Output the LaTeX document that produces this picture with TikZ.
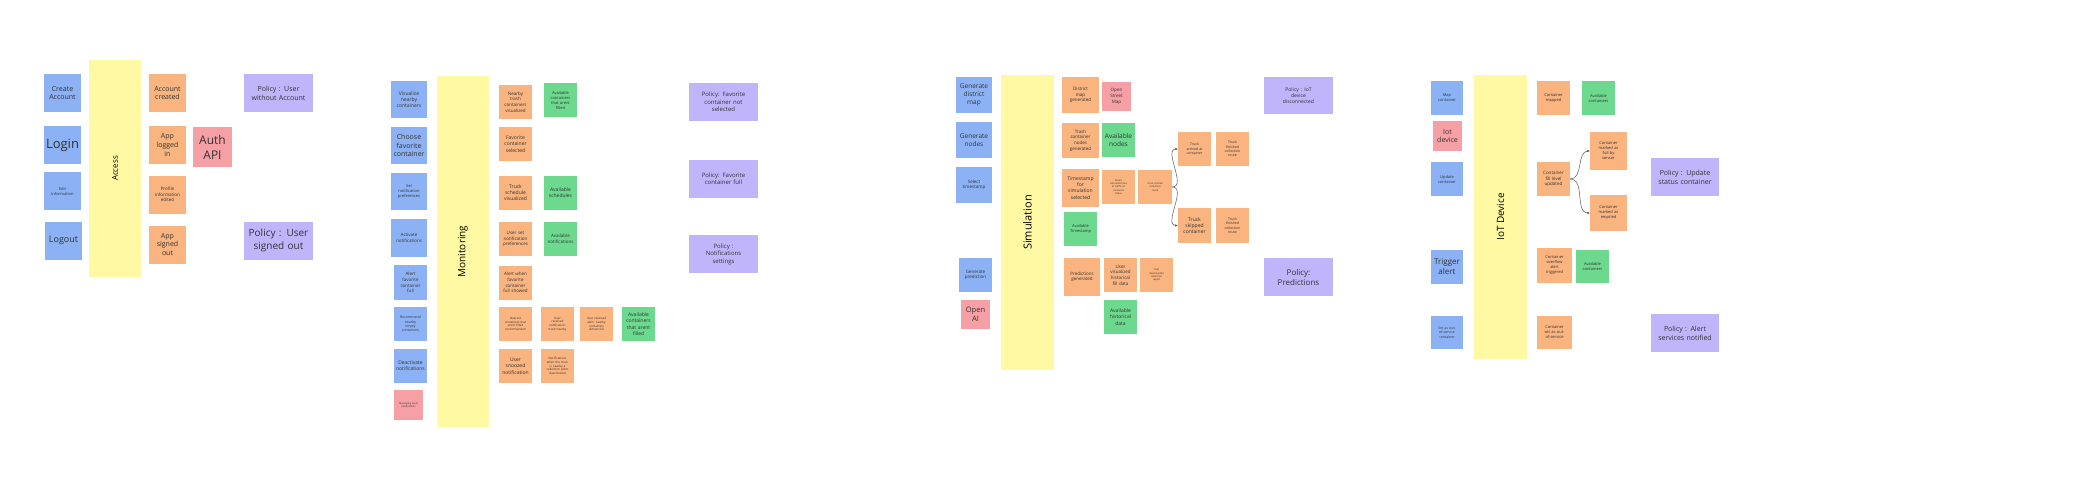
\documentclass[tikz,border=0pt]{standalone}
\usepackage{fontspec}
\setmainfont{Open Sans}
\usetikzlibrary{arrows.meta}

\definecolor{cmdblue}{HTML}{8CB2F5}
\definecolor{evorange}{HTML}{F9B47F}
\definecolor{aggyellow}{HTML}{FFF9A3}
\definecolor{rmgreen}{HTML}{6CD98F}
\definecolor{extred}{HTML}{F6A0A6}
\definecolor{polpurple}{HTML}{C0B5FB}

\begin{document}
\begin{tikzpicture}[x=1pt,y=-1pt,
  fs/.style={font=\fontsize{#1}{1.25\dimexpr#1pt\relax}\selectfont},
  sticky/.style={minimum width=33, minimum height=34, text width=31pt,
    align=center, inner sep=0pt, text=black!80},
  cmd/.style={sticky, fill=cmdblue},
  ev/.style={sticky, fill=evorange},
  rm/.style={sticky, fill=rmgreen},
  ext/.style={sticky, fill=extred, minimum width=29, minimum height=29, text width=27pt},
  pol/.style={sticky, fill=polpurple, minimum width=69, minimum height=38, text width=66pt},
  agg/.style={fill=aggyellow, minimum width=52, inner sep=0pt, text=black, rotate=90},
  big/.style={minimum width=37, minimum height=38, text width=35pt},
  flow/.style={-{Stealth[length=3pt,width=2.5pt]}, draw=black!65, line width=.5pt}]

\fill[white] (0,0) rectangle (2074,482);

% Access
\node[cmd,big,fs=7] (ca) at (62.5,93) {Create\\Account};
\node[cmd,big,fs=13] (login) at (62.5,145) {Login};
\node[cmd,big,fs=4] (edit) at (62.5,191) {Edit\\information};
\node[cmd,big,fs=9] (logout) at (63.5,240.5) {Logout};
\node[agg,minimum width=217,minimum height=52,fs=8] (access) at (115,168.5) {Access};
\node[ev,big,fs=7] (acreated) at (167.5,93) {Account\\created};
\node[ev,big,fs=7] (logged) at (167.5,145) {App\\logged\\in};
\node[ev,big,fs=4.5] (edited) at (167.5,194.5) {Profile\\information\\edited};
\node[ev,big,fs=7] (signed) at (167.5,244.5) {App\\signed\\out};
\node[ext,minimum width=39,minimum height=40,text width=37pt,fs=12] (auth) at (212.5,147) {Auth\\API};
\node[pol,fs=7] (pnoacc) at (278.5,93) {Policy : User\\without Account};
\node[pol,fs=10] (psigned) at (278.5,240.5) {Policy : User\\signed out};

% Monitoring
\node[cmd,minimum width=36,minimum height=37,fs=5] (visnear) at (409,99.5) {Visualize\\nearby\\containers};
\node[cmd,minimum width=36,minimum height=37,fs=7] (choose) at (409,145.5) {Choose\\favorite\\container};
\node[cmd,minimum width=36,minimum height=37,fs=4] (setpref) at (409,191.5) {Set\\notification\\preferences};
\node[cmd,minimum width=36,minimum height=38,fs=4.5] (activ) at (409,238) {Activate\\notifications};
\node[cmd,minimum height=35,fs=4.5] (alertfav) at (410.5,282.5) {Alert\\favorite\\container\\full};
\node[cmd,fs=3.5] (recomm) at (410.5,324) {Recommend\\nearby\\empty\\containers};
\node[cmd,fs=5] (deact) at (410.5,366) {Deactivate\\notifications};
\node[ext,minimum height=30,fs=2.5] (push) at (408.5,405) {Messaging push\\notifications};
\node[agg,minimum width=351,minimum height=52,fs=10] (monit) at (463,251.5) {Monitoring};
\node[ev,fs=4.5] (nearvis) at (515.5,102) {Nearby\\trash\\containers\\visualized};
\node[ev,fs=5] (favsel) at (515.5,144) {Favorite\\container\\selected};
\node[ev,fs=5] (schedvis) at (515.5,192.5) {Truck\\schedule\\visualized};
\node[ev,fs=4.5] (prefset) at (515.5,239) {User set\\notification\\preferences};
\node[ev,fs=4.5] (favshow) at (515.5,282.5) {Alert when\\favorite\\container\\full showed};
\node[ev,fs=3] (nearrec) at (515.5,324) {Nearest\\containers that\\arent filled\\recommended};
\node[ev,fs=3] (recvtruck) at (557.5,324) {User\\received\\notification:\\truck nearby};
\node[ev,fs=3] (recvalert) at (596.5,324) {User received\\alert: nearby\\containers\\almost full};
\node[ev,fs=5] (snoozed) at (515.5,366) {User\\snoozed\\notification};
\node[ev,fs=3] (notifoff) at (557.5,366) {Notifications\\when the truck\\is nearby a\\collection point\\deactivated};
\node[rm,fs=4] (availcont) at (560.5,100) {Available\\containers\\that arent\\filled};
\node[rm,fs=5] (availsched) at (560.5,192.5) {Available\\schedules};
\node[rm,fs=4.5] (availnotif) at (560.5,239) {Available\\notifications};
\node[rm,fs=5] (availcont2) at (638.5,324) {Available\\containers\\that arent\\filled};
\node[pol,fs=6] (pfavnot) at (723.5,102) {Policy: Favorite\\container not\\selected};
\node[pol,fs=6] (pfavfull) at (723.5,178.5) {Policy: Favorite\\container full};
\node[pol,fs=6] (pnotif) at (723.5,254) {Policy :\\Notifications\\settings};

% Simulation
\node[cmd,minimum width=36,minimum height=36,fs=6.5] (gendist) at (974,95) {Generate\\district\\map};
\node[cmd,minimum width=36,minimum height=36,fs=6.5] (gennodes) at (974,140) {Generate\\nodes};
\node[cmd,minimum width=36,minimum height=36,fs=4.5] (seltime) at (974,185) {Select\\timestamp};
\node[cmd,fs=4.5] (genpred) at (975.5,275) {Generate\\prediction};
\node[ext,fs=7.5] (openai) at (975.5,314.5) {Open\\AI};
\node[agg,minimum width=295,minimum height=53,fs=11] (simul) at (1027.5,222.5) {Simulation};
\node[ev,minimum width=37,minimum height=36,fs=4.5] (distgen) at (1080.5,95) {District\\map\\generated};
\node[ext,fs=4.5] (osm) at (1116.5,96.5) {Open\\Street\\Map};
\node[ev,minimum width=37,minimum height=35,fs=4.5] (nodesgen) at (1080.5,140.5) {Trash\\container\\nodes\\generated};
\node[rm,fs=6.5] (availnodes) at (1118.5,140) {Available\\nodes};
\node[ev,big,fs=5] (timesel) at (1080.5,188) {Timestamp\\for\\simulation\\selected};
\node[ev,fs=2.5] (routesim) at (1118.5,187) {Route\\simulated due\\to traffic or\\container\\status};
\node[ev,minimum width=34,fs=2.5] (started) at (1155,187) {Truck started\\collection\\route};
\node[ev,fs=3.5] (arrived) at (1194.5,149) {Truck\\arrived at\\container};
\node[ev,fs=3.5] (finished) at (1232.5,149) {Truck\\finished\\collection\\route};
\node[ev,minimum height=35,fs=5] (skipped) at (1194.5,225.5) {Truck\\skipped\\container};
\node[ev,minimum height=35,fs=3.5] (finished2) at (1232.5,225.5) {Truck\\finished\\collection\\route};
\node[rm,fs=4] (availtime) at (1080.5,229) {Available\\Timestamp};
\node[ev,minimum width=36,minimum height=38,fs=4.5] (predgen) at (1082,277) {Predictions\\generated};
\node[ev,fs=4.5] (histvis) at (1120.5,275) {User\\visualized\\historical\\fill data};
\node[ev,fs=2.5] (report) at (1156.5,275) {User\\downloaded\\collection\\report};
\node[rm,fs=5] (availhist) at (1120.5,317) {Available\\historical\\data};
\node[pol,minimum height=37,fs=5] (piot) at (1298.5,95.5) {Policy : IoT\\device\\disconnected};
\node[pol,fs=8] (ppred) at (1298.5,277) {Policy:\\Predictions};

\draw[flow] (started.east) to[out=0,in=180] (arrived.west);
\draw[flow] (started.east) to[out=0,in=180] (skipped.west);

% IoT Device
\node[cmd,minimum width=32,fs=4] (mapcont) at (1447,98) {Map\\container};
\node[ext,minimum height=30,fs=7] (iotdev) at (1447.5,136) {Iot\\device};
\node[cmd,minimum width=32,fs=4] (updcont) at (1447,179) {Update\\container};
\node[cmd,minimum width=32,fs=8] (trigger) at (1447,266.5) {Trigger\\alert};
\node[cmd,minimum width=32,minimum height=33,fs=3.5] (setout) at (1447,332.5) {Set as out-\\of-service\\container};
\node[agg,minimum width=284,minimum height=53,fs=10] (iotbar) at (1500.5,217) {IoT Device};
\node[ev,fs=4] (mapped) at (1553.5,98) {Container\\mapped};
\node[rm,fs=4] (availc1) at (1598.5,98) {Available\\containers};
\node[ev,fs=4.5] (fillupd) at (1553.5,179) {Container\\fill level\\updated};
\node[ev,big,fs=4] (markfull) at (1608.5,151) {Container\\marked as\\full by\\sensor};
\node[ev,big,minimum height=36,fs=4] (markempty) at (1608.5,213) {Container\\marked as\\emptied};
\node[ev,minimum width=35,minimum height=35,fs=4] (overflow) at (1554.5,265.5) {Container\\overflow\\alert\\triggered};
\node[rm,minimum height=33,fs=4] (availc2) at (1592.5,266.5) {Available\\containers};
\node[ev,minimum width=35,minimum height=33,fs=4] (outserv) at (1554.5,332.5) {Container\\set as out-\\of-service};
\node[pol,minimum width=68,fs=7] (pupd) at (1685,177) {Policy : Update\\status container};
\node[pol,minimum width=68,fs=7] (palert) at (1685,333) {Policy : Alert\\services notified};

\draw[flow] (fillupd.east) to[out=0,in=180] (markfull.west);
\draw[flow] (fillupd.east) to[out=0,in=180] (markempty.west);

\end{tikzpicture}
\end{document}
